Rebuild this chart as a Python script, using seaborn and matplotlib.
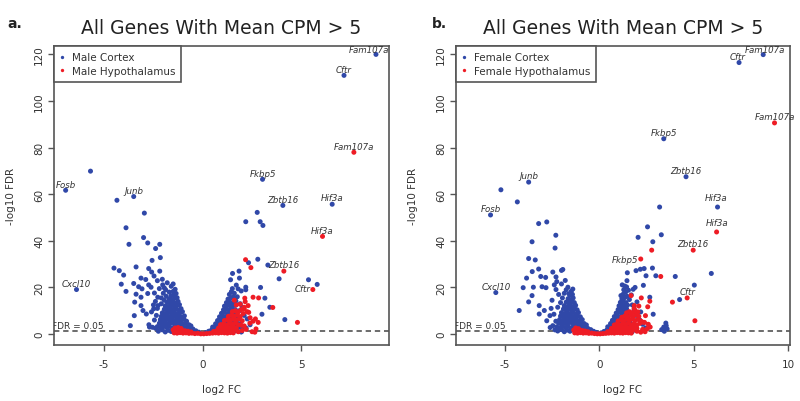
import matplotlib
matplotlib.use("Agg")
import matplotlib.pyplot as plt
import seaborn as sns
import pandas as pd
from matplotlib.lines import Line2D

# ---------------- data ----------------
male_cortex = [
    # labelled / outlying genes
    (8.78, 120.0), (7.16, 111.0), (3.03, 66.4), (4.06, 55.2), (6.56, 55.7),
    (2.76, 52.2), (2.18, 48.2), (2.91, 48.2), (3.05, 46.6), (2.32, 30.6),
    (2.79, 32.1), (3.30, 29.6), (1.84, 27.0), (1.51, 26.0), (1.41, 23.3),
    (1.86, 24.0), (3.87, 23.7), (5.36, 23.3), (5.80, 21.3), (2.93, 20.0),
    (2.18, 20.1), (2.18, 19.0), (1.79, 19.4), (3.15, 15.4), (1.68, 14.2),
    (1.59, 12.6), (3.40, 11.5), (3.00, 8.5), (4.16, 6.2), (1.96, 1.0),
    (-6.95, 61.7), (-5.69, 69.9), (-3.50, 59.0), (-4.35, 57.4), (-2.96, 51.9),
    (-3.89, 45.6), (-3.00, 41.4), (-3.74, 38.5), (-2.79, 39.1), (-2.18, 38.5),
    (-2.39, 36.7), (-2.15, 32.8), (-2.57, 31.6), (-3.38, 28.8), (-4.50, 28.3),
    (-4.23, 27.2), (-4.01, 25.3), (-2.74, 28.1), (-2.59, 26.6), (-2.18, 27.0),
    (-3.13, 24.0), (-2.89, 23.4), (-2.30, 22.9), (-2.47, 24.9), (-4.13, 21.4),
    (-3.50, 21.7), (-3.25, 20.3), (-3.08, 19.4), (-2.74, 21.1), (-2.62, 20.1),
    (-2.03, 21.1), (-1.88, 19.0), (-3.89, 18.3), (-3.38, 17.1), (-3.13, 15.8),
    (-2.79, 17.4), (-2.45, 17.6), (-2.28, 15.8), (-3.45, 13.7), (-3.13, 12.2),
    (-3.03, 10.1), (-3.47, 7.9), (-2.86, 8.6), (-2.49, 10.8), (-2.27, 12.2),
    (-3.67, 3.6), (-2.73, 4.0), (-2.55, 2.9), (-2.12, 6.5), (-6.40, 19.1),
    # dense left arm
    (-2.25, 1.2), (-2.05, 1.8), (-1.90, 0.9), (-1.75, 1.6), (-1.60, 1.1),
    (-2.30, 3.2), (-2.15, 2.8), (-2.00, 3.4), (-1.85, 2.9), (-1.70, 3.3),
    (-1.55, 2.7), (-1.40, 3.1), (-1.25, 2.9), (-1.10, 3.3), (-0.95, 2.8),
    (-0.80, 3.0), (-0.65, 2.6), (-0.50, 2.2), (-0.35, 1.4), (-0.20, 0.8),
    (-2.20, 4.6), (-2.05, 4.3), (-1.90, 4.8), (-1.75, 4.4), (-1.60, 4.9),
    (-1.45, 4.5), (-1.30, 4.2), (-1.15, 4.7), (-1.00, 4.4), (-0.85, 4.6),
    (-0.70, 4.0), (-0.60, 3.5), (-2.15, 6.1), (-2.00, 5.8), (-1.85, 6.3),
    (-1.70, 5.9), (-1.55, 6.2), (-1.40, 5.7), (-1.25, 6.1), (-1.10, 5.8),
    (-0.95, 6.3), (-0.82, 5.5), (-2.10, 7.6), (-1.95, 7.3), (-1.80, 7.8),
    (-1.65, 7.4), (-1.50, 7.7), (-1.35, 7.2), (-1.20, 7.6), (-1.05, 7.3),
    (-0.93, 7.8), (-2.05, 9.1), (-1.90, 8.8), (-1.75, 9.3), (-1.60, 8.9),
    (-1.45, 9.2), (-1.30, 8.8), (-1.15, 9.1), (-1.03, 9.6), (-1.95, 10.6),
    (-1.80, 10.3), (-1.65, 10.8), (-1.50, 10.4), (-1.35, 10.7), (-1.20, 10.3),
    (-1.10, 10.9), (-1.90, 12.1), (-1.75, 11.8), (-1.60, 12.3), (-1.45, 11.9),
    (-1.30, 12.2), (-1.18, 12.6), (-1.80, 13.6), (-1.65, 13.3), (-1.50, 13.8),
    (-1.35, 13.4), (-1.25, 14.0), (-1.70, 15.1), (-1.55, 14.8), (-1.42, 15.4),
    (-1.30, 15.6), (-1.60, 16.5), (-1.45, 16.9), (-1.35, 17.4), (-1.50, 18.3),
    (-1.40, 19.2), (-1.95, 14.5), (-2.10, 13.0), (-1.85, 16.2), (-2.00, 17.5),
    (-1.70, 18.0), (-1.60, 20.5), (-1.80, 22.0), (-1.50, 21.5), (-2.20, 19.5),
    (-2.40, 14.0), (-2.50, 12.5), (-2.60, 9.5), (-2.35, 8.0), (-2.45, 6.0),
    (-2.70, 3.0), (-2.40, 2.5), (-2.30, 11.0), (-2.10, 15.5), (-1.95, 19.8),
    (-2.05, 23.5),
    # dense right arm
    (0.15, 0.6), (0.30, 1.2), (0.45, 1.8), (0.60, 2.3), (0.75, 2.0),
    (0.90, 1.6), (1.05, 1.9), (1.20, 1.4), (1.35, 1.7), (1.50, 1.2),
    (1.65, 1.5), (1.80, 1.1), (1.95, 0.9), (0.50, 3.0), (0.65, 3.4),
    (0.80, 3.1), (0.95, 3.5), (1.10, 2.9), (1.25, 3.3), (1.40, 3.0),
    (1.55, 3.4), (1.70, 2.9), (1.85, 3.2), (2.00, 2.7), (0.65, 4.4),
    (0.80, 4.8), (0.95, 4.5), (1.10, 4.9), (1.25, 4.4), (1.40, 4.7),
    (1.55, 4.3), (1.70, 4.8), (1.85, 4.4), (0.75, 5.8), (0.90, 6.2),
    (1.05, 5.9), (1.20, 6.3), (1.35, 5.8), (1.50, 6.2), (1.65, 5.9),
    (1.80, 6.4), (0.85, 7.4), (1.00, 7.8), (1.15, 7.3), (1.30, 7.7),
    (1.45, 7.4), (1.60, 7.9), (1.75, 7.5), (0.95, 8.9), (1.10, 9.3),
    (1.25, 8.8), (1.40, 9.2), (1.55, 8.9), (1.70, 9.4), (1.05, 10.4),
    (1.20, 10.8), (1.35, 10.3), (1.50, 10.7), (1.65, 10.5), (1.10, 12.0),
    (1.25, 12.4), (1.40, 11.9), (1.55, 12.3), (1.20, 13.5), (1.35, 13.9),
    (1.50, 13.4), (1.62, 14.2), (1.28, 15.0), (1.42, 15.5), (1.55, 16.0),
    (1.35, 17.0), (1.45, 18.2), (1.50, 19.5), (1.60, 17.5), (1.75, 16.0),
    (1.90, 13.0), (2.00, 11.5), (1.85, 10.0), (2.10, 8.0), (2.25, 6.5),
    (2.40, 4.0), (2.20, 2.5), (1.70, 21.0), (1.95, 18.5),
]

male_hypothalamus = [
    (7.66, 78.0), (6.07, 41.9), (4.11, 27.0), (5.58, 19.1), (2.17, 31.9),
    (2.44, 28.5), (2.55, 15.8), (2.83, 15.5), (2.13, 15.4), (2.15, 13.9),
    (2.30, 12.2), (3.55, 11.4), (4.80, 5.0), (2.10, 10.8), (2.33, 9.3),
    (2.67, 6.5), (2.81, 5.0), (2.39, 4.7), (2.64, 0.8), (1.60, 14.5),
    (-1.45, 0.5), (-1.30, 0.4), (-1.15, 0.6), (-1.00, 0.4), (-0.85, 0.5),
    (-0.70, 0.3), (-0.55, 0.4), (-0.40, 0.2), (-0.25, 0.3), (-0.10, 0.1),
    (0.05, 0.1), (0.20, 0.2), (0.35, 0.3), (0.50, 0.4), (0.65, 0.5),
    (0.80, 0.4), (0.95, 0.6), (1.10, 0.5), (1.25, 0.4), (1.40, 0.6),
    (1.55, 0.5), (-1.50, 1.8), (-1.35, 1.5), (-1.20, 1.9), (-1.05, 1.6),
    (-0.90, 1.4), (-0.75, 1.2), (-0.60, 0.9), (0.55, 1.1), (0.70, 1.4),
    (0.85, 1.7), (1.00, 1.5), (1.15, 1.9), (1.30, 1.6), (1.45, 2.0),
    (1.60, 1.8), (-1.40, 2.6), (-1.25, 2.8), (-1.10, 2.4), (0.80, 2.6),
    (0.95, 2.9), (1.10, 2.7), (1.25, 3.0), (1.40, 2.8), (1.55, 3.1),
    (1.70, 2.6), (0.90, 4.0), (1.05, 4.4), (1.20, 3.9), (1.35, 4.6),
    (1.50, 4.2), (1.65, 4.7), (1.80, 4.0), (1.95, 3.8), (2.10, 3.5),
    (1.10, 5.8), (1.25, 6.2), (1.40, 5.9), (1.55, 6.4), (1.70, 6.0),
    (1.85, 6.5), (2.00, 5.7), (1.30, 7.6), (1.45, 8.0), (1.60, 7.7),
    (1.75, 8.2), (1.90, 7.5), (2.05, 8.8), (1.50, 9.6), (1.65, 10.0),
    (1.80, 9.5), (1.95, 10.5), (2.10, 11.5), (1.70, 12.5), (1.90, 12.8),
    (2.25, 9.6), (2.40, 7.0), (2.55, 5.5), (2.20, 2.0), (2.50, 1.0),
    (2.70, 2.2), (1.80, 1.0), (2.00, 1.5),
]

female_cortex = [
    (8.69, 119.9), (7.41, 116.5), (3.42, 83.8), (4.60, 67.5), (6.27, 54.5),
    (3.20, 54.5), (2.56, 46.0), (2.06, 41.5), (3.29, 42.6), (2.84, 39.6),
    (2.82, 28.3), (2.38, 28.1), (2.18, 27.8), (1.95, 27.2), (1.49, 26.3),
    (2.48, 25.0), (3.00, 25.0), (4.03, 24.7), (5.94, 26.0), (1.47, 22.9),
    (1.22, 21.1), (1.35, 20.6), (1.90, 20.0), (2.34, 20.9), (5.04, 21.0),
    (4.26, 14.8), (1.15, 16.5), (2.68, 15.8), (2.86, 8.5), (3.53, 4.7),
    (3.42, 3.0), (3.31, 1.9), (3.60, 2.2), (3.45, 1.2), (3.55, 3.6),
    (-3.74, 65.2), (-5.21, 61.9), (-4.34, 56.7), (-5.76, 51.1), (-3.21, 47.4),
    (-2.78, 48.1), (-2.30, 42.4), (-3.56, 39.6), (-2.34, 36.9), (-3.74, 32.4),
    (-3.39, 31.8), (-3.21, 27.9), (-3.55, 26.8), (-3.85, 24.0), (-3.10, 24.7),
    (-2.84, 24.3), (-2.46, 26.6), (-2.29, 24.5), (-2.00, 27.3), (-1.93, 27.7),
    (-4.03, 19.9), (-3.49, 20.1), (-3.03, 20.3), (-2.82, 19.9), (-2.38, 21.1),
    (-2.29, 19.1), (-1.66, 20.1), (-1.61, 17.3), (-3.56, 16.5), (-3.74, 13.8),
    (-3.18, 12.2), (-2.91, 10.1), (-4.24, 10.1), (-3.18, 8.6), (-2.61, 7.9),
    (-2.78, 5.7), (-2.46, 3.6), (-5.48, 17.8),
    # dense left arm
    (-2.20, 1.3), (-2.00, 1.9), (-1.85, 1.0), (-1.70, 1.7), (-1.55, 1.2),
    (-2.25, 3.1), (-2.10, 2.7), (-1.95, 3.5), (-1.80, 2.8), (-1.65, 3.4),
    (-1.50, 2.6), (-1.35, 3.2), (-1.20, 2.8), (-1.05, 3.4), (-0.90, 2.7),
    (-0.75, 2.9), (-0.60, 2.4), (-0.45, 1.9), (-0.30, 1.2), (-0.15, 0.7),
    (-2.15, 4.7), (-2.00, 4.2), (-1.85, 4.9), (-1.70, 4.3), (-1.55, 5.0),
    (-1.40, 4.4), (-1.25, 4.3), (-1.10, 4.8), (-0.95, 4.3), (-0.80, 4.5),
    (-0.68, 3.9), (-2.10, 6.2), (-1.95, 5.7), (-1.80, 6.4), (-1.65, 5.8),
    (-1.50, 6.3), (-1.35, 5.6), (-1.20, 6.2), (-1.05, 5.7), (-0.90, 6.2),
    (-2.05, 7.7), (-1.90, 7.2), (-1.75, 7.9), (-1.60, 7.3), (-1.45, 7.8),
    (-1.30, 7.1), (-1.15, 7.7), (-1.00, 7.4), (-2.00, 9.2), (-1.85, 8.7),
    (-1.70, 9.4), (-1.55, 8.8), (-1.40, 9.3), (-1.25, 8.7), (-1.10, 9.2),
    (-1.90, 10.7), (-1.75, 10.2), (-1.60, 10.9), (-1.45, 10.3), (-1.30, 10.8),
    (-1.17, 10.4), (-1.85, 12.2), (-1.70, 11.7), (-1.55, 12.4), (-1.40, 11.8),
    (-1.25, 12.3), (-1.75, 13.7), (-1.60, 13.2), (-1.45, 13.9), (-1.32, 13.5),
    (-1.65, 15.2), (-1.50, 14.7), (-1.38, 15.5), (-1.55, 16.6), (-1.42, 17.0),
    (-1.48, 18.4), (-1.40, 19.3), (-2.30, 5.5), (-2.40, 8.5), (-2.20, 11.5),
    (-2.05, 13.5), (-1.95, 15.5), (-1.85, 17.5), (-2.15, 17.0), (-1.75, 19.0),
    (-2.00, 21.5), (-1.80, 23.0), (-2.25, 22.5), (-2.50, 14.5), (-2.55, 11.0),
    (-2.35, 1.8), (-2.60, 2.8),
    # dense right arm
    (0.10, 0.5), (0.25, 1.1), (0.40, 1.7), (0.55, 2.2), (0.70, 1.9),
    (0.85, 1.5), (1.00, 1.8), (1.15, 1.3), (1.30, 1.6), (1.45, 1.1),
    (1.60, 1.4), (1.75, 1.0), (0.45, 3.1), (0.60, 3.5), (0.75, 3.0),
    (0.90, 3.4), (1.05, 2.8), (1.20, 3.2), (1.35, 2.9), (1.50, 3.3),
    (1.65, 2.8), (0.60, 4.5), (0.75, 4.9), (0.90, 4.4), (1.05, 4.8),
    (1.20, 4.3), (1.35, 4.6), (1.50, 4.2), (1.65, 4.7), (0.70, 5.9),
    (0.85, 6.3), (1.00, 5.8), (1.15, 6.2), (1.30, 5.7), (1.45, 6.1),
    (1.60, 5.8), (0.80, 7.5), (0.95, 7.9), (1.10, 7.4), (1.25, 7.8),
    (1.40, 7.3), (1.55, 7.8), (0.90, 9.0), (1.05, 9.4), (1.20, 8.9),
    (1.35, 9.3), (1.50, 8.8), (1.00, 10.5), (1.15, 10.9), (1.30, 10.4),
    (1.45, 10.8), (1.05, 12.1), (1.20, 12.5), (1.35, 12.0), (1.50, 12.4),
    (1.12, 13.6), (1.27, 14.0), (1.42, 13.5), (1.20, 15.1), (1.35, 15.6),
    (1.48, 16.2), (1.28, 17.2), (1.40, 18.0), (1.30, 19.0), (1.55, 18.8),
    (1.45, 20.2), (1.60, 14.8), (1.75, 12.5), (1.85, 10.5), (1.95, 8.0),
    (2.15, 6.0), (2.30, 4.2), (2.45, 2.6), (1.70, 16.8), (1.80, 19.2),
    (2.00, 13.8), (2.20, 9.5),
]

female_hypothalamus = [
    (9.29, 90.6), (6.22, 43.8), (4.98, 36.0), (2.78, 36.0), (2.20, 32.2),
    (3.26, 24.7), (4.66, 15.5), (3.88, 13.7), (1.69, 16.5), (2.23, 15.5),
    (2.68, 14.1), (1.86, 12.2), (2.57, 11.7), (2.45, 7.9), (5.07, 5.7),
    (2.43, 1.0),
    (-1.30, 0.5), (-1.15, 0.4), (-1.00, 0.6), (-0.85, 0.4), (-0.70, 0.5),
    (-0.55, 0.3), (-0.40, 0.4), (-0.25, 0.2), (-0.10, 0.1), (0.05, 0.1),
    (0.20, 0.2), (0.35, 0.3), (0.50, 0.4), (0.65, 0.5), (0.80, 0.4),
    (0.95, 0.6), (1.10, 0.5), (1.25, 0.4), (1.40, 0.6), (1.55, 0.5),
    (1.70, 0.4), (-1.35, 1.7), (-1.20, 1.4), (-1.05, 1.8), (-0.90, 1.5),
    (-0.75, 1.3), (-0.60, 1.0), (0.45, 1.0), (0.60, 1.3), (0.75, 1.6),
    (0.90, 1.4), (1.05, 1.8), (1.20, 1.5), (1.35, 1.9), (1.50, 1.6),
    (1.65, 2.0), (1.80, 1.7), (-1.25, 2.6), (-1.10, 2.3), (0.65, 2.4),
    (0.80, 2.8), (0.95, 2.5), (1.10, 2.9), (1.25, 2.6), (1.40, 3.0),
    (1.55, 2.7), (1.70, 3.1), (1.85, 2.8), (2.00, 2.4), (0.80, 3.9),
    (0.95, 4.3), (1.10, 3.8), (1.25, 4.5), (1.40, 4.1), (1.55, 4.6),
    (1.70, 4.0), (1.85, 4.4), (2.00, 3.9), (2.15, 4.6), (2.30, 5.1),
    (1.00, 5.6), (1.15, 6.0), (1.30, 5.7), (1.45, 6.3), (1.60, 5.9),
    (1.75, 6.4), (1.90, 5.8), (2.05, 6.3), (2.20, 5.6), (2.40, 5.0),
    (1.20, 7.2), (1.35, 7.7), (1.50, 7.4), (1.65, 8.0), (1.80, 7.5),
    (1.95, 8.3), (2.10, 7.6), (1.45, 9.1), (1.60, 9.6), (1.75, 9.2),
    (1.90, 10.0), (2.05, 9.5), (2.30, 2.0), (2.55, 2.3), (2.60, 4.2),
    (2.70, 3.0), (2.00, 1.2), (2.20, 0.8), (1.85, 11.0), (2.10, 12.0),
]

cortex_labels_male = [("Fam107a", 8.78, 120.0), ("Cftr", 7.16, 111.0),
                      ("Fkbp5", 3.03, 66.4), ("Zbtb16", 4.06, 55.2),
                      ("Hif3a", 6.56, 55.7), ("Fosb", -6.95, 61.7),
                      ("Junb", -3.50, 59.0), ("Cxcl10", -6.40, 19.1)]
hypo_labels_male = [("Fam107a", 7.66, 78.0), ("Hif3a", 6.07, 41.9),
                    ("Zbtb16", 4.11, 27.0), ("Cftr", 5.58, 19.1)]
cortex_labels_female = [("Fam107a", 8.69, 119.9), ("Cftr", 7.41, 116.5),
                        ("Fkbp5", 3.42, 83.8), ("Zbtb16", 4.60, 67.5),
                        ("Hif3a", 6.27, 54.5), ("Junb", -3.74, 65.2),
                        ("Fosb", -5.76, 51.1), ("Cxcl10", -5.48, 17.8)]
hypo_labels_female = [("Fam107a", 9.29, 90.6), ("Hif3a", 6.22, 43.8),
                      ("Zbtb16", 4.98, 36.0), ("Fkbp5", 2.20, 32.2),
                      ("Cftr", 4.66, 15.5)]

fdr_cutoff = 1.30103  # -log10(0.05)
y_ticks = [0, 20, 40, 60, 80, 100, 120]
title_text = "All Genes With Mean CPM > 5"

# ---------------- style ----------------
BLUE = "#3048A8"
RED = "#EE1C25"
GRAY = "#555555"
TXT = "#333333"
FONT = "DejaVu Sans"

sns.set_theme(style="white")
plt.rcParams["font.family"] = [FONT]

fig = plt.figure(figsize=(8.0, 4.02), dpi=100)
fig.patch.set_facecolor("white")

# label offsets in points (dx, dy, ha)
label_style = {
    ("male", "cortex", "Fam107a"): (-5, 3.5, "center"),
    ("male", "hypo", "Cftr"): (-2, 1, "right"),
    ("female", "cortex", "Fam107a"): (1.5, 4, "center"),
    ("female", "cortex", "Cftr"): (-1, 4, "center"),
    ("female", "cortex", "Hif3a"): (-1, 7, "center"),
    ("female", "hypo", "Hif3a"): (0, 7, "center"),
    ("female", "hypo", "Zbtb16"): (0, 5, "center"),
    ("female", "hypo", "Fkbp5"): (-2, 0, "right"),
}


def panel(ax, sex, cortex, hypo, lab_c, lab_h, names, xlim, xticks):
    df = pd.DataFrame(
        [(x, y, names[0]) for x, y in cortex] + [(x, y, names[1]) for x, y in hypo],
        columns=["log2FC", "nlog10FDR", "group"])
    sns.scatterplot(data=df, x="log2FC", y="nlog10FDR", hue="group",
                    palette={names[0]: BLUE, names[1]: RED}, s=13,
                    linewidth=0, legend=False, ax=ax, zorder=3)
    ax.set_xlim(*xlim)
    ax.set_ylim(-4.7, 123.6)
    ax.axhline(fdr_cutoff, color="#444444", lw=1.1, ls=(0, (3.5, 2.5)), zorder=2)
    ax.text(-0.006, fdr_cutoff + 0.5, "FDR = 0.05", transform=ax.get_yaxis_transform(),
            fontsize=6.5, color=TXT, ha="left", va="bottom", clip_on=True, zorder=4)
    for kind, labs in (("cortex", lab_c), ("hypo", lab_h)):
        for name, x, y in labs:
            dx, dy, ha = label_style.get((sex, kind, name), (0, 4.5, "center"))
            ax.annotate(name, (x, y), xytext=(dx, dy), textcoords="offset points",
                        ha=ha, va="center", fontsize=6.2, style="italic", color=TXT,
                        zorder=5, annotation_clip=False)
    ax.set_xticks(xticks)
    ax.set_yticks(y_ticks)
    ax.set_xticklabels([str(t) for t in xticks])
    ax.set_yticklabels([str(t) for t in y_ticks], rotation=90, va="center")
    ax.tick_params(axis="both", length=4, width=1.0, color=GRAY, labelsize=7.5,
                   labelcolor=TXT, direction="out", bottom=True, left=True, pad=3)
    ax.tick_params(axis="x", pad=6)
    for sp in ax.spines.values():
        sp.set_color(GRAY)
        sp.set_linewidth(1.2)
    ax.set_xlabel("log2 FC", fontsize=7.5, color=TXT)
    ax.set_ylabel("-log10 FDR", fontsize=7.5, color=TXT)
    ax.xaxis.set_label_coords(0.5, -0.132)
    ax.yaxis.set_label_coords(-0.113, 0.5)
    handles = [Line2D([], [], ls="", marker="o", ms=2.4, color=BLUE, mew=0),
               Line2D([], [], ls="", marker="o", ms=2.4, color=RED, mew=0)]
    leg = ax.legend(handles, names, loc="upper left", bbox_to_anchor=(0, 1),
                    borderaxespad=0, fancybox=False, framealpha=1,
                    edgecolor=GRAY, fontsize=7.5, handlelength=0.4,
                    handletextpad=0.7, borderpad=0.6, labelspacing=0.35)
    leg.get_frame().set_linewidth(1.2)
    for t in leg.get_texts():
        t.set_color(TXT)
    ax.set_title(title_text, fontsize=13.5, color="#222222", pad=9)
    return ax


ax1 = fig.add_axes([54 / 800, 1 - 346 / 402, 335 / 800, 299 / 402])
panel(ax1, "male", male_cortex, male_hypothalamus, cortex_labels_male,
      hypo_labels_male, ["Male Cortex", "Male Hypothalamus"], (-7.54, 9.44),
      [-5, 0, 5])
ax2 = fig.add_axes([456 / 800, 1 - 346 / 402, 334 / 800, 299 / 402])
panel(ax2, "female", female_cortex, female_hypothalamus, cortex_labels_female,
      hypo_labels_female, ["Female Cortex", "Female Hypothalamus"], (-7.59, 10.11),
      [-5, 0, 5, 10])

fig.text(7 / 800, 1 - 24 / 402, "a.", fontsize=10, fontweight="bold",
         color="#222222", va="center", ha="left")
fig.text(432 / 800, 1 - 24 / 402, "b.", fontsize=10, fontweight="bold",
         color="#222222", va="center", ha="left")

fig.savefig("out.png", dpi=100, facecolor="white")
